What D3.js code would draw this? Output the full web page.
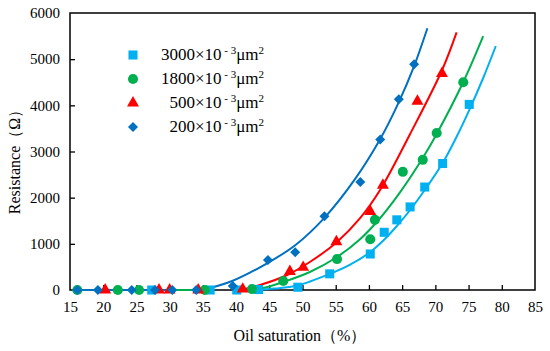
<!DOCTYPE html>
<html>
<head>
<meta charset="utf-8">
<script src="https://cdn.jsdelivr.net/npm/d3@7"></script>
<style>
  body { margin: 0; background: #fff; }
  svg { display: block; }
  svg text { font-family: "Liberation Serif", "Times New Roman", serif; }
</style>
</head>
<body>
<svg id="chart" width="550" height="351"></svg>
<script>
// tick labels
const xTicks = [15, 20, 25, 30, 35, 40, 45, 50, 55, 60, 65, 70, 75, 80, 85]
const yTicks = [0, 1000, 2000, 3000, 4000, 5000, 6000]

// measured points (oil saturation %, resistance ohm)
const sq3000X = [27.3, 36.1, 40.1, 43.4, 49.3, 54.1, 60.2, 62.3, 64.2, 66.2, 68.4, 71.1, 75.1]
const sq3000Y = [0, 0, 0, 10, 60, 350, 780, 1250, 1520, 1800, 2230, 2740, 4020]
const ci1800X = [16.1, 22.2, 25.4, 35.3, 42.4, 47.1, 55.2, 60.2, 60.9, 65.1, 68.1, 70.2, 74.2]
const ci1800Y = [0, 0, 0, 0, 20, 195, 670, 1100, 1520, 2560, 2820, 3400, 4500]
const tr500X = [20.3, 28.4, 30.0, 34.3, 41.0, 48.1, 50.1, 55.1, 60.2, 62.1, 67.3, 71.0]
const tr500Y = [0, 0, 0, 0, 20, 400, 490, 1045, 1700, 2270, 4090, 4690]
const di200X = [16.1, 19.2, 24.3, 27.8, 30.4, 34.0, 39.5, 44.8, 48.9, 53.3, 58.7, 61.7, 64.5, 66.8]
const di200Y = [0, 0, 0, 0, 0, 0, 85, 650, 820, 1600, 2340, 3260, 4130, 4890]

// trend curves
const fit3000X = [42.1, 45.9, 49.2, 54.1, 57.1, 60.2, 62.4, 64.2, 66.2, 68.4, 71.1, 73.1, 75.1, 77.2, 79.1]
const fit3000Y = [0, 32, 97, 347, 542, 823, 1105, 1386, 1733, 2166, 2751, 3292, 3898, 4592, 5285]
const fit1800X = [41.3, 44.4, 47.1, 51.1, 55.2, 58.7, 61.7, 64.7, 68.1, 70.2, 74.2, 77.2]
const fit1800Y = [0, 54, 173, 390, 715, 1105, 1560, 2120, 2860, 3380, 4505, 5500]
const fit500X = [40.6, 43.6, 47.7, 51.1, 55.2, 58.7, 61.7, 66.2, 71.0, 73.2]
const fit500Y = [0, 108, 325, 606, 1040, 1560, 2170, 3380, 4760, 5580]
const fit200X = [35, 39.5, 44.8, 48.9, 53.4, 57.9, 61.7, 64.5, 66.8, 68.8]
const fit200Y = [0, 200, 590, 970, 1580, 2400, 3270, 4070, 4850, 5670]

// flat zero parts of the trend lines that show
const flat1800X = [30.4, 35.3]
const flat200X = [16.1, 30.4]

const names = ["3000", "1800", "500", "200"]
const colors = ["#00B0F0", "#00B050", "#FF0000", "#0070C0"]

let svg = d3.select("#chart")
let x = d3.scaleLinear().domain([15, 85]).range([70, 535])
let y = d3.scaleLinear().domain([0, 6000]).range([290, 13])

let series = [
    { name: names[0], color: colors[0], shape: "square", xs: sq3000X, ys: sq3000Y, fx: fit3000X, fy: fit3000Y },
    { name: names[1], color: colors[1], shape: "circle", xs: ci1800X, ys: ci1800Y, fx: fit1800X, fy: fit1800Y },
    { name: names[2], color: colors[2], shape: "triangle", xs: tr500X, ys: tr500Y, fx: fit500X, fy: fit500Y },
    { name: names[3], color: colors[3], shape: "diamond", xs: di200X, ys: di200Y, fx: fit200X, fy: fit200Y }
]

const symbolFor = shape => {
    if (shape == "square") return d3.symbol(d3.symbolSquare, 82)()
    if (shape == "circle") return d3.symbol(d3.symbolCircle, 80)()
    if (shape == "triangle") return d3.symbol(d3.symbolTriangle, 62)()
    return d3.symbol(d3.symbolSquare, 50)()
}

// axes with inward ticks
let xAxis = d3.axisBottom(x).tickValues(xTicks).tickFormat(d3.format("d")).tickSizeInner(-5).tickSizeOuter(0).tickPadding(11)
let gx = svg.append("g").attr("transform", "translate(0,290)").call(xAxis)
let yAxis = d3.axisLeft(y).tickValues(yTicks).tickFormat(d3.format("d")).tickSizeInner(-5).tickSizeOuter(0).tickPadding(10)
let gy = svg.append("g").attr("transform", "translate(70,0)").call(yAxis)
;[gx, gy].forEach(g => {
    g.attr("font-size", 15)
    g.select(".domain").remove()
    g.selectAll(".tick line").attr("stroke", "#000").attr("stroke-width", 1.3)
    g.selectAll(".tick text").attr("fill", "#000")
})
gx.selectAll(".tick line").filter(d => d == 15 || d == 85).remove()
gy.selectAll(".tick line").filter(d => d == 0 || d == 6000).remove()

// frame
svg.append("rect")
    .attr("x", 70).attr("y", 13)
    .attr("width", 465).attr("height", 277)
    .attr("fill", "none").attr("stroke", "#000").attr("stroke-width", 1.5)

let line = d3.line().x(d => x(d[0])).y(d => y(d[1])).curve(d3.curveCatmullRom)

// zero parts
svg.append("path").datum(flat1800X.map(v => [v, 0]))
    .attr("d", line).attr("fill", "none").attr("stroke", colors[1]).attr("stroke-width", 2)
svg.append("path").datum(flat200X.map(v => [v, 0]))
    .attr("d", line).attr("fill", "none").attr("stroke", colors[3]).attr("stroke-width", 2)

// trend curves
series.forEach(s => {
    svg.append("path")
        .datum(s.fx.map((v, i) => [v, s.fy[i]]))
        .attr("d", line)
        .attr("fill", "none")
        .attr("stroke", s.color)
        .attr("stroke-width", 2)
})

// markers
series.forEach(s => {
    svg.append("g").selectAll("path")
        .data(s.xs.map((v, i) => [v, s.ys[i]]))
        .join("path")
        .attr("d", symbolFor(s.shape))
        .attr("fill", s.color)
        .attr("transform", d => `translate(${x(d[0])},${y(d[1])})` + (s.shape == "diamond" ? " rotate(45)" : ""))
})

// legend
let legend = svg.append("g")
series.forEach((s, i) => {
    let ly = 55 + i * 24
    legend.append("path")
        .attr("d", symbolFor(s.shape))
        .attr("fill", s.color)
        .attr("transform", `translate(133,${ly})` + (s.shape == "diamond" ? " rotate(45)" : ""))
    let t = legend.append("text")
        .attr("x", 264).attr("y", ly + 5)
        .attr("text-anchor", "end")
        .attr("font-size", 17)
    t.append("tspan").text(s.name + "×10")
    t.append("tspan").attr("dy", -6).attr("font-size", 11).text(" - 3")
    t.append("tspan").attr("dy", 6).text("μm")
    t.append("tspan").attr("dy", -6).attr("font-size", 11).text("2")
})

// axis titles
svg.append("text")
    .attr("x", 300).attr("y", 341)
    .attr("text-anchor", "middle")
    .attr("font-size", 16)
    .text("Oil saturation（%）")

svg.append("text")
    .attr("transform", "translate(20,158) rotate(-90)")
    .attr("text-anchor", "middle")
    .attr("font-size", 16)
    .text("Resistance（Ω）")
</script>
</body>
</html>
